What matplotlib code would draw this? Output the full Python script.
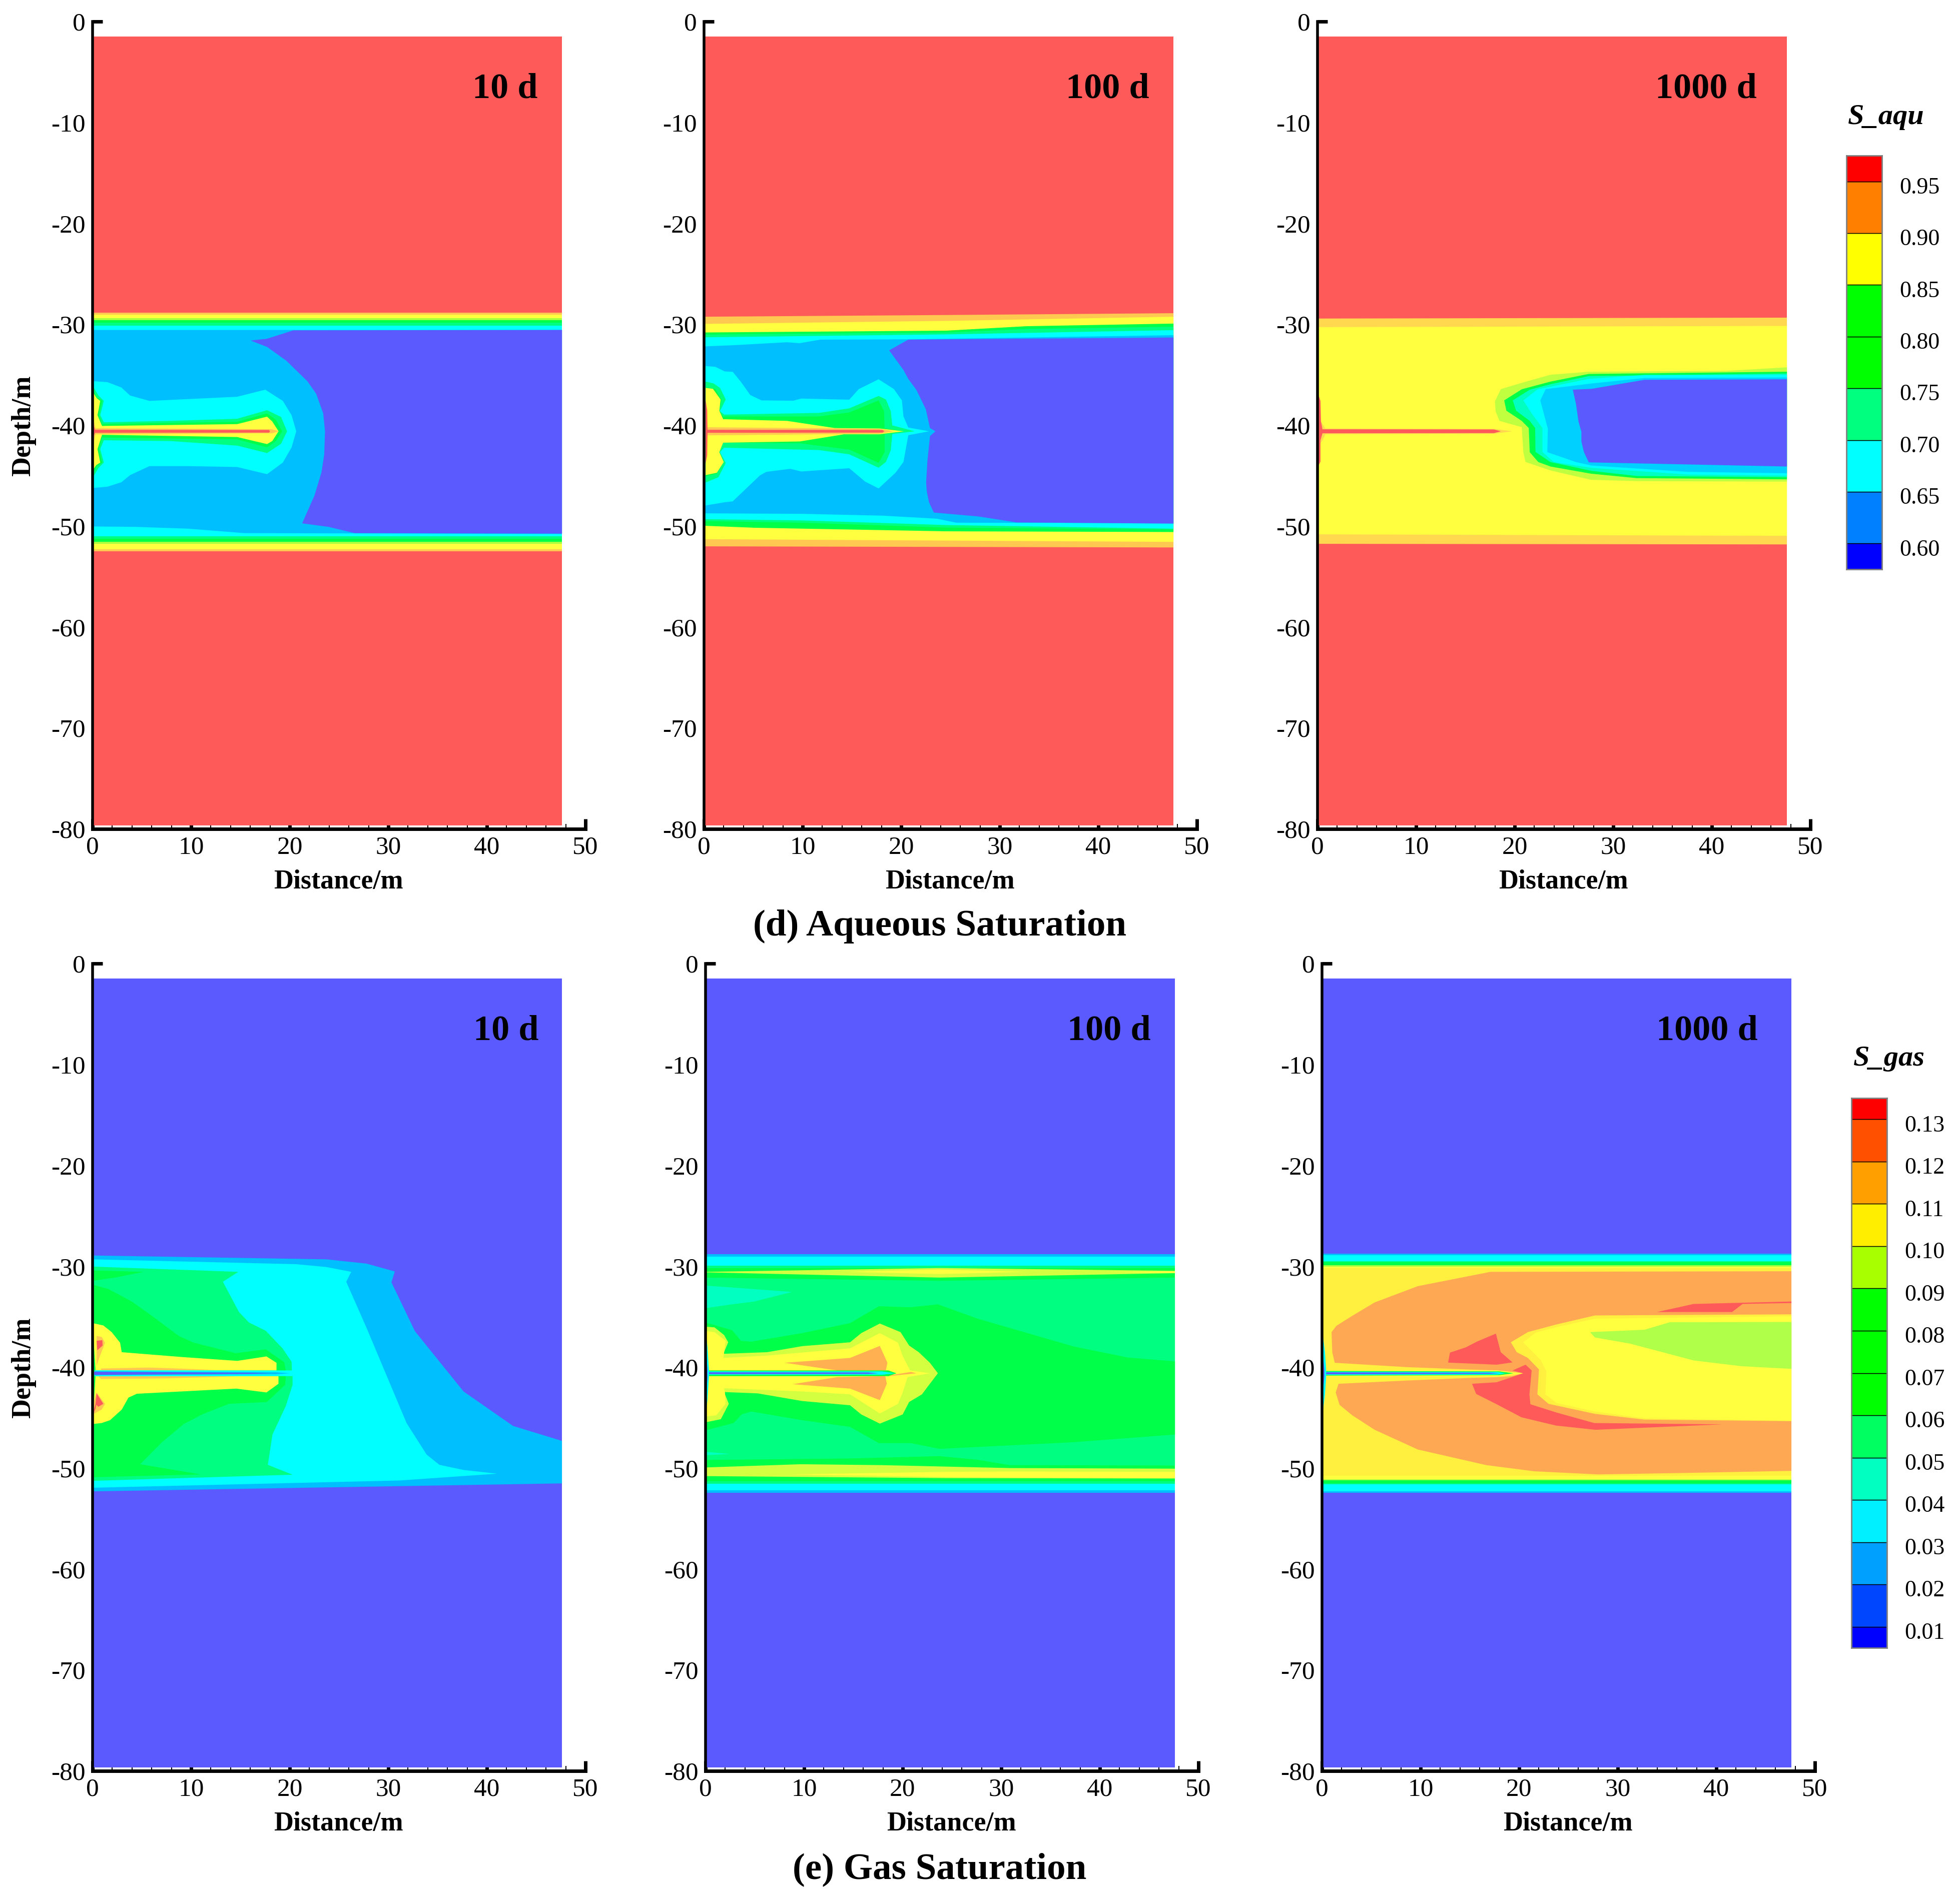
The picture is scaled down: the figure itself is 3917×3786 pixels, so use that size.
import matplotlib
matplotlib.use("Agg")
import matplotlib.pyplot as plt
from matplotlib.ticker import MultipleLocator

W, H = 3917, 3786
plt.rcParams['font.family'] = ['Liberation Serif', 'DejaVu Serif']
plt.rcParams['axes.unicode_minus'] = False

COL = {
    'red': '#FF5A5A', 'org': '#FFC850', 'org2': '#FFD850', 'org3': '#FFA854', 'org4': '#FFB050',
    'yel': '#FFFF40', 'yel2': '#FFF040', 'yg': '#A8FF40', 'yg2': '#C0FF40', 'yg3': '#D4FF40', 'yg4': '#B0FF48',
    'grn': '#00FF48', 'spr': '#00FF80', 'teal': '#00FFC0',
    'cya': '#00FFFF', 'sky': '#00BFFF', 'sky2': '#00D0FF', 'blu': '#5A5AFF',
}

# extent of the computed field
XEND = 47.62
YTOP = -1.5
YBOT = -79.65

# ---- Aqueous 10 d ----
AQ10_BANDS = [('org', -28.83, -52.51), ('yel', -29.04, -52.28), ('yg', -29.39, -51.75),
              ('grn', -29.59, -51.54), ('spr', -29.84, -51.26), ('cya', -30.12, -51.01)]
AQ10_SHAPES = [
    ('sky', [(0, -30.56), (47.62, -30.56), (47.62, -50.78), (26.6, -50.72), (15.4, -50.69), (9.7, -50.25), (4.3, -50.07), (0, -50.03)]),
    ('blu', [(20.37, -30.6), (17.7, -31.43), (16.03, -31.61), (17.7, -32.24), (19.66, -33.61), (21.79, -35.64), (22.68, -36.88),
             (23.4, -38.83), (23.58, -40.6), (23.5, -42.9), (23.22, -44.67), (22.51, -46.97), (21.26, -49.72), (23.93, -50.07),
             (26.6, -50.69), (47.62, -50.74), (47.62, -30.56)]),
    ('cya', [(0.07, -35.64), (1.5, -35.73), (2.92, -36.26), (3.81, -37.06), (5.77, -37.59), (9.69, -37.41), (14.67, -37.18),
             (17.52, -36.48), (19.3, -37.59), (20.19, -39.01), (20.66, -40.6), (20.19, -42.19), (19.3, -43.7), (17.7, -44.85),
             (14.67, -44.14), (9.69, -44.05), (5.77, -44.05), (3.81, -44.94), (2.92, -45.65), (1.5, -46.09), (0.07, -46.21)]),
    ('spr', [(0.07, -36.18), (0.6, -37.06), (1.14, -37.59), (0.78, -39.0), (1.14, -39.71), (7.9, -39.57), (14.67, -39.36),
             (17.7, -38.51), (19.12, -39.18), (19.73, -40.6), (19.12, -41.84), (17.7, -42.76), (14.67, -42.02), (7.9, -41.57),
             (1.14, -41.49), (0.78, -42.37), (1.14, -43.7), (0.6, -44.23), (0.07, -45.11)]),
    ('grn', [(0.07, -36.53), (0.43, -37.24), (0.96, -37.59), (0.64, -39.0), (0.96, -39.89), (7.9, -39.77), (14.67, -39.66),
             (17.7, -38.83), (18.59, -39.45), (19.23, -40.6), (18.59, -41.57), (17.7, -42.19), (14.67, -41.4), (7.9, -41.31),
             (0.96, -41.22), (0.64, -42.37), (0.96, -43.7), (0.43, -44.05), (0.07, -44.76)]),
    ('yel', [(0.07, -36.79), (0.43, -37.33), (0.78, -37.59), (0.5, -39.0), (0.96, -40.07), (14.67, -39.89), (17.7, -39.15),
             (18.23, -39.63), (18.87, -40.6), (18.23, -41.57), (17.7, -41.87), (14.67, -41.17), (0.96, -40.95), (0.5, -42.37),
             (0.78, -43.7), (0.36, -43.96), (0.07, -44.4)]),
    ('org', [(0.07, -39.3), (0.3, -40.3), (18.2, -40.4), (18.9, -40.6), (18.2, -40.8), (0.3, -40.9), (0.07, -42)]),
    ('red', [(0.07, -39.9), (0.25, -40.45), (17.9, -40.47), (18.0, -40.6), (17.9, -40.73), (0.25, -40.75), (0.07, -41.2)]),
]

# ---- Aqueous 100 d ----
AQ100_BANDS = []
AQ100_SHAPES = [
    ('org', [(0, -29.25), (24.6, -29.08), (47.62, -28.9), (47.62, -52.11), (0, -52.0)]),
    ('yel', [(0, -29.96), (24.6, -29.66), (47.62, -29.25), (47.62, -51.56), (0, -51.29)]),
    ('grn', [(0, -30.81), (24.6, -30.63), (32.7, -30.19), (47.62, -29.93), (47.62, -50.58), (24.6, -50.51), (5.2, -50.16), (0, -49.96)]),
    ('spr', [(0, -31.02), (24.6, -30.81), (32.7, -30.46), (47.62, -30.24), (47.62, -50.34), (24.6, -50.14), (9.9, -49.66), (0, -49.49)]),
    ('cya', [(0, -31.29), (24.6, -31.0), (47.62, -30.58), (47.62, -50.25), (24.6, -49.89), (9.9, -49.43), (0, -49.31)]),
    ('sky', [(0, -32.19), (3.0, -32.07), (8.4, -31.78), (9.7, -31.87), (11.8, -31.52), (20.7, -31.49), (47.62, -31.08),
             (47.62, -49.7), (25.6, -49.66), (23.6, -49.26), (18.1, -48.96), (9.9, -48.78), (0, -48.73)]),
    ('blu', [(20.72, -31.52), (47.62, -31.31), (47.62, -49.75), (31.73, -49.63), (27.84, -49.04), (23.31, -48.65), (22.82, -47.63),
             (22.6, -46.57), (22.53, -45.68), (22.66, -43.56), (22.92, -41.08), (23.47, -40.6), (22.92, -40.28), (22.5, -38.42),
             (21.53, -36.48), (20.72, -35.41), (20.23, -34.53), (18.78, -32.58)]),
    ('cya', [(0.16, -34.14), (1.13, -34.21), (2.1, -34.67), (2.91, -34.71), (3.72, -35.68), (4.69, -37.01), (5.83, -37.54),
             (9.06, -37.57), (9.87, -37.36), (14.73, -37.47), (15.7, -36.42), (17.71, -35.45), (19.26, -36.42), (20.07, -37.54),
             (20.23, -39.13), (20.72, -40.23), (22.82, -40.6), (20.72, -40.99), (20.23, -43.64), (19.42, -44.71), (18.45, -45.59),
             (17.71, -46.26), (16.35, -45.59), (14.73, -44.26), (9.87, -44.58), (8.74, -44.32), (6.31, -44.62), (5.67, -44.97),
             (2.91, -47.54), (2.1, -47.63), (0.16, -47.95)]),
    ('spr', [(0.16, -35.68), (0.97, -35.86), (1.62, -36.3), (2.2, -37.45), (1.62, -38.6), (2.04, -38.95), (11.65, -38.78),
             (14.73, -38.33), (17.71, -37.1), (18.45, -37.45), (18.94, -38.6), (19.1, -40.02), (21.37, -40.6), (19.1, -40.87),
             (18.94, -42.49), (18.45, -43.64), (17.71, -44.21), (14.73, -42.88), (11.65, -42.46), (2.04, -42.23), (1.62, -42.67),
             (2.2, -43.73), (1.46, -45.15), (0.16, -45.68)]),
    ('grn', [(0.16, -36.25), (1.13, -36.39), (1.78, -37.45), (1.55, -38.56), (1.94, -39.13), (11.65, -39.13), (14.73, -38.74),
             (17.71, -37.54), (18.26, -38.6), (18.32, -40.3), (20.27, -40.6), (18.32, -40.9), (18.32, -42.67), (17.71, -43.73),
             (14.73, -42.41), (9.71, -41.79), (1.94, -41.73), (1.55, -42.67), (2.0, -43.65), (1.3, -44.8), (0.16, -45.06)]),
    ('yel', [(0.16, -36.3), (0.9, -36.39), (1.68, -37.45), (1.55, -38.56), (1.94, -39.4), (8.42, -39.57), (13.27, -40.28),
             (17.8, -40.32), (20.27, -40.6), (17.8, -40.9), (14.2, -40.9), (9.71, -41.61), (1.94, -41.73), (1.55, -42.67),
             (2.0, -43.65), (1.3, -44.71), (0.16, -44.94)]),
    ('org', [(0.16, -38), (0.35, -40.2), (17.8, -40.36), (19.2, -40.6), (17.8, -40.84), (0.35, -41), (0.16, -43)]),
    ('red', [(0.16, -37.5), (0.32, -38.5), (0.35, -40.45), (18.1, -40.47), (18.3, -40.6), (18.1, -40.73), (0.35, -40.75), (0.32, -43), (0.16, -43.8)]),
]

# ---- Aqueous 1000 d ----
AQ1000_BANDS = []
AQ1000_SHAPES = [
    ('org2', [(0, -29.43), (47.62, -29.34), (47.62, -51.81), (0, -51.75)]),
    ('yel', [(0, -30.28), (47.62, -30.16), (47.62, -50.96), (0, -50.81)]),
    ('yg2', [(47.62, -34.26), (41.4, -34.62), (27.5, -34.7), (23.63, -35.0), (20.72, -35.8), (18.6, -36.42), (18, -37.63), (18.06, -38.6),
             (18.45, -39.57), (20.72, -40.19), (20.88, -42.67), (21.1, -43.64), (23.63, -44.48), (27.74, -45.41), (32.37, -45.54), (47.62, -45.59)]),
    ('grn', [(47.62, -34.7), (27.52, -34.92), (23.63, -35.68), (20.72, -36.44), (18.94, -37.54), (19.16, -38.56), (20.72, -39.57), (21.43, -40.28),
             (21.53, -42.67), (22.4, -43.65), (23.63, -44.09), (27.74, -44.8), (32.37, -45.24), (47.62, -45.36)]),
    ('teal', [(47.62, -34.88), (27.52, -35.13), (23.63, -35.94), (21.53, -36.48), (19.81, -37.54), (20.14, -38.56), (21.53, -39.57), (22.08, -40.28),
              (22.11, -42.64), (23.63, -43.65), (27.84, -44.53), (32.37, -45.03), (47.62, -45.15)]),
    ('cya', [(47.62, -35.02), (33.18, -35.02), (27.52, -35.41), (22.34, -36.44), (20.88, -37.54), (21.69, -38.78), (22.82, -40.28), (22.82, -42.64),
             (23.96, -43.65), (27.84, -44.23), (37.55, -44.88), (47.62, -45.0)]),
    ('sky2', [(47.62, -35.27), (33.18, -35.32), (27.84, -35.86), (23.15, -36.42), (22.6, -37.54), (23.37, -40.37), (23.31, -42.67), (26.22, -43.65),
              (27.84, -44.0), (37.55, -44.62), (47.62, -44.76)]),
    ('blu', [(33.18, -35.5), (27.84, -36.39), (25.9, -36.48), (26.22, -37.89), (26.48, -39.66), (26.77, -40.64), (26.77, -41.61), (27.03, -42.67),
             (27.52, -43.68), (47.62, -44.09), (47.62, -35.45)]),
    ('org2', [(0.1, -39.5), (0.45, -39.8), (0.8, -40.32), (17.9, -40.36), (19.75, -40.6), (17.9, -40.85), (0.8, -40.9), (0.45, -41.6), (0.1, -42)]),
    ('red', [(0.1, -37), (0.3, -37.6), (0.35, -39.6), (0.5, -40.4), (17.9, -40.42), (18.6, -40.6), (17.9, -40.78), (0.5, -40.8), (0.3, -41.5), (0.3, -43.6), (0.1, -44)]),
]

# ---- Gas 10 d ----
GS10_BANDS = []
GS10_SHAPES = [
    ('sky', [(0, -28.93), (23.7, -29.31), (27.77, -29.73), (30.66, -30.51), (30.32, -31.59), (32.7, -36.43), (37.63, -42.4), (42.66, -45.82),
             (47.62, -47.3), (47.62, -51.51), (0, -52.3)]),
    ('cya', [(0, -29.31), (20.63, -29.79), (23.7, -30.07), (26.24, -30.55), (25.73, -31.53), (27.77, -36.05), (31.85, -45.53), (33.89, -48.66),
             (35.18, -49.67), (37.63, -50.18), (41.03, -50.55), (31.17, -51.22), (0, -51.94)]),
    ('spr', [(0, -30.03), (14.79, -30.55), (13.22, -31.53), (14.85, -34.53), (15.87, -35.57), (17.57, -36.39), (19.27, -38.13), (20.19, -39.46),
             (20.22, -40.32), (20.29, -40.88), (20.29, -41.74), (19.61, -43.82), (18.25, -46.67), (17.78, -49.67), (20.29, -50.65), (0, -51.26)]),
    ('grn', [(0, -30.41), (5.17, -30.55), (2.28, -31.12), (0, -31.44)]),
    ('grn', [(0, -31.82), (1.6, -32.25), (3.98, -33.49), (6.02, -34.91), (8.74, -36.9), (10.27, -37.57), (14.51, -38.61), (17.57, -38.23),
             (19.44, -39.5), (19.61, -40.32), (19.61, -40.88), (19.54, -41.74), (17.68, -43.45), (13.83, -43.63), (11.11, -44.68), (9.25, -45.63),
             (7.04, -47.43), (4.83, -49.61), (10.95, -50.62), (0, -50.9)]),
    ('yel', [(0, -35.63), (1.09, -35.86), (1.94, -36.52), (2.79, -37.57), (2.96, -38.51), (9.08, -38.99), (14.68, -39.37), (17.64, -38.93),
             (18.66, -39.56), (18.66, -40.32), (0.3, -40.35)]),
    ('yel', [(0.3, -40.85), (18.86, -40.88), (18.86, -41.64), (17.64, -42.5), (14.58, -42.12), (4.49, -42.63), (3.64, -43.01), (2.96, -44.2),
             (1.77, -45.25), (0.92, -45.53), (0, -45.63)]),
    ('org', [(0.85, -40.13), (5.68, -40.03), (12.47, -40.26), (0.85, -40.35)]),
    ('org', [(0.58, -40.88), (15.2, -40.88), (7.38, -41.11), (0.85, -41.17)]),
    ('org', [(0.41, -36.9), (0.92, -37.0), (1.26, -37.57), (0.75, -38.89), (0.41, -39.84)]),
    ('org', [(0.41, -42.5), (1.26, -43.63), (0.92, -44.2), (0, -44.68), (0, -43.82)]),
    ('red', [(0.41, -37.38), (0.99, -37.32), (1.02, -37.85), (0.48, -38.32)]),
    ('red', [(0.41, -42.59), (1.09, -43.63), (0.58, -43.92), (0.3, -43.63)]),
    ('red', [(0, -44.77), (0.3, -43.63), (0.45, -43.4), (0.3, -44.1)]),
    ('cya', [(0.2, -40.3), (20.3, -40.32), (20.3, -40.88), (0.2, -40.9)]),
    ('sky', [(0.2, -40.4), (18.6, -40.5), (20, -40.6), (18.6, -40.7), (0.2, -40.8)]),
    ('blu', [(0.15, -40.45), (16, -40.55), (18, -40.6), (16, -40.65), (0.15, -40.75)]),
]

# ---- Gas 100 d ----
GS100_BANDS = [('sky', -28.8, -52.42), ('cya', -29.03, -52.21), ('spr', -29.92, -51.54), ('grn', -30.2, -51.32)]
GS100_SHAPES = [
    ('spr', [(0, -31.12), (23.73, -31.44), (47.62, -31.12), (47.62, -49.74), (30.85, -49.7), (27.6, -49.17), (23.73, -48.81), (14.67, -49.04), (0, -49.19)]),
    ('yg3', [(0, -30.55), (23.73, -30.17), (47.62, -30.45), (47.62, -30.68), (23.73, -31.12), (0, -30.6)]),
    ('yel', [(14.34, -30.55), (23.73, -30.32), (32.47, -30.55), (23.73, -30.77)]),
    ('yel', [(40.6, -30.56), (47.62, -30.5), (47.62, -30.68)]),
    ('yg3', [(0, -49.93), (9.65, -49.61), (17.9, -49.7), (30.85, -49.99), (47.62, -50.05), (47.62, -51.03), (24.38, -50.99), (0, -50.79)]),
    ('yel', [(8.51, -50.62), (24.38, -50.37), (30.85, -50.33), (47.62, -50.37), (47.62, -50.99), (24.38, -50.88)]),
    ('teal', [(0, -31.91), (8.77, -32.54), (4.95, -33.49), (2.69, -33.77), (0, -34.15)]),
    ('teal', [(0, -48.38), (2.52, -48.6), (0, -48.72)]),
    ('grn', [(0, -35.57), (2.69, -36.33), (3.59, -37.38), (4.63, -37.47), (9.81, -36.62), (14.66, -35.63), (17.58, -33.96), (20.82, -34.06),
             (23.57, -33.77), (27.6, -35.19), (37.33, -37.94), (42.83, -39.04), (47.62, -39.42), (47.62, -46.67), (37.33, -47.43), (23.73, -48.09),
             (20.82, -47.52), (17.58, -47.52), (14.66, -45.91), (9.81, -45.25), (4.63, -44.39), (3.66, -44.68), (2.85, -45.53), (0, -46.25)]),
    ('yg3', [(0.1, -35.99), (0.91, -36.05), (1.88, -36.81), (2.3, -37.53), (1.81, -38.67), (6.25, -38.51), (9.81, -37.91), (14.66, -37.53),
             (15.8, -36.62), (17.68, -35.67), (19.78, -36.52), (20.65, -37.85), (21.63, -38.51), (22.76, -39.56), (23.57, -40.6), (22.76, -41.64),
             (21.95, -42.69), (20.65, -43.45), (20, -44.68), (17.68, -45.59), (15.8, -44.68), (14.66, -43.77), (9.81, -43.35), (5.28, -42.59),
             (1.88, -42.46), (2.36, -43.63), (1.55, -45.15), (0.1, -45.44)]),
    ('yel', [(0.1, -36.43), (0.91, -36.52), (2.04, -37.38), (1.81, -39.08), (6.25, -38.85), (14.66, -38.13), (17.68, -36.62), (19.52, -37.57),
             (20, -38.89), (20.75, -40.32), (22.76, -40.6), (20.49, -40.98), (20, -42.5), (19.52, -43.63), (17.68, -44.58), (14.66, -42.69),
             (9.81, -42.4), (1.88, -42.08), (1.97, -42.5), (2.04, -43.63), (1.07, -44.77), (0.1, -44.87)]),
    ('org4', [(8.03, -39.56), (14.66, -39.08), (17.68, -37.89), (18.45, -39.56), (18.29, -40.32), (13.37, -40.32)]),
    ('org4', [(8.84, -41.68), (13.37, -40.98), (18.23, -40.88), (18.39, -41.64), (17.68, -43.26), (14.66, -42.12)]),
    ('org4', [(18.23, -40.88), (20.82, -40.47), (21.4, -40.6), (18.55, -40.88)]),
    ('grn', [(0.26, -40.32), (18.55, -40.32), (19.36, -40.6), (18.55, -40.88), (0.26, -40.88)]),
    ('cya', [(0.26, -40.41), (17.9, -40.41), (19.2, -40.6), (17.9, -40.75), (0.26, -40.75)]),
    ('blu', [(0.2, -40.5), (16.5, -40.52), (17.5, -40.6), (16.5, -40.66), (0.2, -40.68)]),
    ('cya', [(0.1, -37.2), (0.2, -38), (0.35, -40.3), (0.35, -40.9), (0.2, -43.2), (0.1, -44)]),
    ('blu', [(0.1, -39), (0.2, -40.3), (0.2, -41), (0.1, -42.3)]),
]

# ---- Gas 1000 d ----
GS1000_BANDS = [('sky', -28.75, -52.45), ('cya', -28.88, -52.27), ('spr', -29.5, -51.6), ('grn', -29.6, -51.5),
                ('yg', -29.88, -51.2), ('yel', -30.02, -51.12), ('yel2', -30.17, -50.75)]
GS1000_SHAPES = [
    ('org3', [(17.09, -30.55), (9.71, -31.97), (5.34, -33.58), (2.91, -35.0), (1.46, -35.9), (0.97, -36.52), (1.04, -38.51), (1.29, -39.56),
              (8.58, -39.99), (14.73, -40.22), (17.81, -40.32), (19.59, -40.5), (20.4, -40.6), (19.26, -40.88), (17.81, -40.98), (14.73, -41.07),
              (8.58, -41.32), (1.68, -41.64), (1.39, -42.5), (1.78, -43.73), (3.08, -44.77), (5.34, -46.2), (9.71, -48.15), (16.67, -49.7),
              (21.53, -50.31), (28, -50.62), (37.71, -50.46), (47.62, -50.27), (47.62, -30.49)]),
    ('yel2', [(47.62, -34.76), (27.68, -34.87), (23.79, -35.76), (20.88, -36.52), (19.16, -37.53), (19.75, -38.51), (20.88, -39.08), (22.01, -40.22),
              (21.85, -42.69), (22.98, -43.63), (27.68, -44.62), (32.7, -45.19), (47.62, -45.34)]),
    ('yel', [(47.62, -34.95), (27.68, -35.19), (24.12, -35.95), (21.69, -36.56), (20.4, -37.53), (22.18, -39.27), (22.76, -40.41), (22.66, -42.69),
             (23.79, -43.54), (27.68, -44.39), (32.7, -45.06), (47.62, -45.3)]),
    ('yg4', [(47.62, -35.52), (35.29, -35.54), (32.7, -36.29), (27.19, -36.52), (27.68, -37.05), (31.24, -37.66), (37.71, -39.33), (42.57, -39.9), (47.62, -40.16)]),
    ('red', [(34, -34.53), (37.71, -33.73), (47.62, -33.49), (47.62, -33.64), (42.67, -33.73), (41.6, -34.53)]),
    ('red', [(17.64, -36.67), (18.13, -38.51), (19.33, -39.52), (17.71, -39.75), (12.79, -39.54), (12.98, -38.55), (14.57, -38.04), (15.7, -37.47)]),
    ('red', [(19.33, -40.32), (20.65, -39.75), (21.27, -40.32), (21.04, -42.69), (21.14, -43.67), (23.79, -44.49), (27.61, -45.53), (40.63, -45.66),
             (27.74, -46.2), (23.73, -45.78), (20.23, -44.96), (17.64, -43.63), (15.64, -42.65), (15.22, -41.64), (17.71, -41.49), (19.26, -40.98), (20.4, -40.6)]),
    ('yel', [(0.32, -40.32), (17.81, -40.32), (20.4, -40.6), (17.81, -40.88), (0.32, -40.88)]),
    ('grn', [(0.32, -40.37), (17.97, -40.41), (19.42, -40.6), (17.97, -40.79), (0.32, -40.83)]),
    ('cya', [(0.32, -40.45), (17.81, -40.47), (18.61, -40.6), (17.81, -40.73), (0.32, -40.77)]),
    ('blu', [(0.23, -40.5), (17.0, -40.55), (17.97, -40.6), (17.0, -40.65), (0.23, -40.7)]),
    ('cya', [(0.1, -36.9), (0.3, -38.5), (0.42, -40.2), (0.42, -41), (0.3, -42.7), (0.1, -44.3)]),
    ('blu', [(0.1, -38.8), (0.25, -40.3), (0.25, -40.9), (0.1, -42.3)]),
]

AQ_LEVELS = [0.575, 0.60, 0.65, 0.70, 0.75, 0.80, 0.85, 0.90, 0.95, 0.975]
AQ_COLORS = ['#0000FF', '#007FFF', '#00FFFF', '#00FF7F', '#00FF00', '#00FF00', '#FFFF00', '#FF7F00', '#FF0000']
AQ_TICKS = [0.60, 0.65, 0.70, 0.75, 0.80, 0.85, 0.90, 0.95]

GS_LEVELS = [0.005, 0.01, 0.02, 0.03, 0.04, 0.05, 0.06, 0.07, 0.08, 0.09, 0.10, 0.11, 0.12, 0.13, 0.135]
GS_COLORS = ['#0000FF', '#0046FF', '#00A0FF', '#00F0FF', '#00FFC0', '#00FF60', '#00FF00', '#00FF00', '#00FF00',
             '#A8FF00', '#FFEE00', '#FFA000', '#FF5000', '#FF0000']
GS_TICKS = [0.01, 0.02, 0.03, 0.04, 0.05, 0.06, 0.07, 0.08, 0.09, 0.10, 0.11, 0.12, 0.13]

fig = plt.figure(figsize=(W / 100, H / 100), dpi=100)
PT = 0.72  # points per output pixel at dpi 100


def axes_px(left, top, width, height):
    return fig.add_axes([left / W, 1 - (top + height) / H, width / W, height / H])


def panel(x0, y0, back, bands, shapes, label, label_right, label_y, depth=False):
    ax = axes_px(x0, y0, 985, 1614)
    ax.set_xlim(0, 50)
    ax.set_ylim(-80, 0)
    ax.set_axisbelow(True)
    ax.patch.set_visible(False)
    ax.spines['top'].set_visible(False)
    ax.spines['right'].set_visible(False)
    ax.spines['left'].set_linewidth(5.5 * PT)
    ax.spines['bottom'].set_linewidth(7 * PT)

    ax.fill([0, XEND, XEND, 0], [YTOP, YTOP, YBOT, YBOT], color=COL[back], lw=0)
    for key, top, bot in bands:
        ax.fill([0, XEND, XEND, 0], [top, top, bot, bot], color=COL[key], lw=0)
    for key, pts in shapes:
        ax.fill([p[0] for p in pts], [p[1] for p in pts], color=COL[key], lw=0)

    ax.xaxis.set_major_locator(MultipleLocator(10))
    ax.xaxis.set_minor_locator(MultipleLocator(2))
    ax.yaxis.set_major_locator(MultipleLocator(10))
    ax.yaxis.set_minor_locator(MultipleLocator(2))
    ax.tick_params(which='major', direction='in', length=20 * PT, width=7 * PT, labelsize=37, pad=14 * PT)
    ax.tick_params(which='minor', direction='in', length=10 * PT, width=2 * PT)
    ax.tick_params(axis='y', which='minor', length=0)
    ax.set_yticks([0, -10, -20, -30, -40, -50, -60, -70, -80])

    fig.text((x0 + 491) / W, 1 - (y0 + 1733) / H, 'Distance/m', fontsize=39, fontweight='bold',
             ha='center', va='baseline')
    fig.text(label_right / W, 1 - label_y / H, label, fontsize=52, fontweight='bold', ha='right', va='center')
    if depth:
        fig.text(47 / W, 1 - (y0 + 808) / H, 'Depth/m', fontsize=39, fontweight='bold', rotation=90,
                 ha='center', va='center')
    return ax


def colorbar(left, top, width, height, levels, colors, ticks, fmt_y, title, title_x, title_y, label_x):
    ax = axes_px(left, top, width, height)
    for i, c in enumerate(colors):
        ax.bar(0.5, levels[i + 1] - levels[i], width=1, bottom=levels[i], color=c, edgecolor='black', linewidth=1.0)
    ax.set_xlim(0, 1)
    ax.set_ylim(levels[0], levels[-1])
    ax.set_xticks([])
    ax.set_yticks([])
    for s in ax.spines.values():
        s.set_color('#808080')
        s.set_linewidth(2)
    for t in ticks:
        ax.annotate('%.2f' % t, xy=(1, t), xycoords=('axes fraction', 'data'),
                    xytext=(label_x - (left + width), -fmt_y), textcoords='offset pixels',
                    fontsize=33, ha='left', va='center')
    fig.text(title_x / W, 1 - title_y / H, title, fontsize=42, fontweight='bold', style='italic',
             ha='center', va='center')


panel(185, 43, 'red', AQ10_BANDS, AQ10_SHAPES, '10 d', 1074, 178, depth=True)
panel(1407, 43, 'red', AQ100_BANDS, AQ100_SHAPES, '100 d', 2297, 178)
panel(2633, 43, 'red', AQ1000_BANDS, AQ1000_SHAPES, '1000 d', 3511, 178)
panel(185, 1926, 'blu', GS10_BANDS, GS10_SHAPES, '10 d', 1076, 2061, depth=True)
panel(1410, 1926, 'blu', GS100_BANDS, GS100_SHAPES, '100 d', 2300, 2061)
panel(2642, 1926, 'blu', GS1000_BANDS, GS1000_SHAPES, '1000 d', 3513, 2061)

colorbar(3690, 311, 71, 827, AQ_LEVELS, AQ_COLORS, AQ_TICKS, 13, 'S_aqu', 3769, 234, 3796)
colorbar(3700, 2195, 71, 1099, GS_LEVELS, GS_COLORS, GS_TICKS, 13, 'S_gas', 3775, 2116, 3806)

fig.text(1878 / W, 1 - 1870 / H, '(d) Aqueous Saturation', fontsize=54, fontweight='bold', ha='center', va='baseline')
fig.text(1878 / W, 1 - 3755 / H, '(e) Gas Saturation', fontsize=54, fontweight='bold', ha='center', va='baseline')

fig.savefig('out.png', dpi=100)
